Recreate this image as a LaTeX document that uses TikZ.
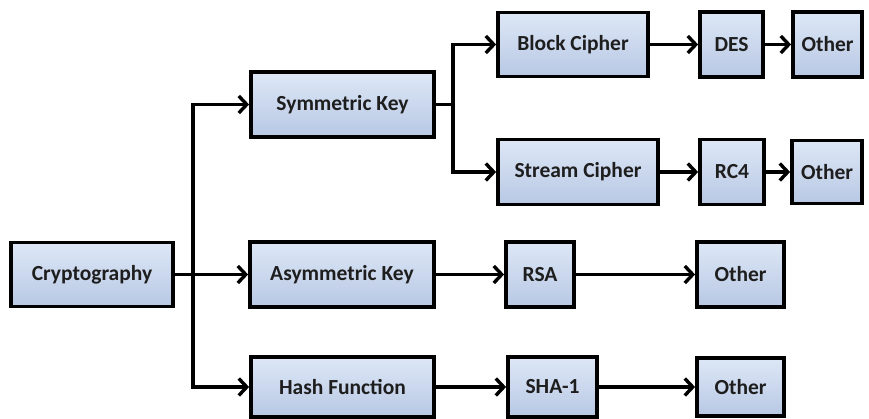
\documentclass[tikz,border=0pt]{standalone}
\usepackage{fontspec}
\setmainfont{Carlito}
\usepackage{tikz}
\usetikzlibrary{arrows.meta, positioning, calc}
\usepackage{xcolor}
\definecolor{boxTop}{HTML}{DDE7F6}
\definecolor{boxBot}{HTML}{B8C8E4}
\definecolor{inkDark}{HTML}{1E1E1E}

\begin{document}
\begin{tikzpicture}[
    x=1pt, y=-1pt,
    box/.style={draw=black, line width=3.8pt, rectangle, inner sep=0pt,
                top color=boxTop, bottom color=boxBot,
                text=inkDark, font=\fontsize{21.5}{24}\selectfont\bfseries},
    arr/.style={-{Straight Barb[length=8pt, width=17pt, line width=3.4pt]},
                line width=3.4pt, black},
    lnk/.style={line width=3.4pt, black}
  ]
    \useasboundingbox (0,0) rectangle (869,419);

    \node[box, minimum width=162pt, minimum height=64pt] (crypto) at (92, 274.5) {Cryptography};

    \node[box, minimum width=183pt, minimum height=65pt] (sym)  at (342.5, 104.5) {Symmetric Key};
    \node[box, minimum width=184pt, minimum height=65pt] (asym) at (342, 274.5) {Asymmetric Key};
    \node[box, minimum width=183pt, minimum height=60pt] (hash) at (342.5, 387) {Hash Function};

    \node[box, minimum width=150pt, minimum height=64pt] (block)  at (573, 44.5) {Block Cipher};
    \node[box, minimum width=160pt, minimum height=65pt] (stream) at (578, 172) {Stream Cipher};

    \node[box, minimum width=63pt, minimum height=65pt] (des)    at (731.5, 44.5) {DES};
    \node[box, minimum width=69pt, minimum height=65pt] (other1) at (827.5, 44.5) {Other};
    \node[box, minimum width=64pt, minimum height=65pt] (rc4)    at (732, 172) {RC4};
    \node[box, minimum width=70pt, minimum height=63pt] (other2) at (827, 172) {Other};

    \node[box, minimum width=68pt, minimum height=65pt] (rsa)    at (540, 274.5) {RSA};
    \node[box, minimum width=87pt, minimum height=65pt] (other3) at (740.5, 274.5) {Other};
    \node[box, minimum width=89pt, minimum height=60pt] (sha)    at (552.5, 387) {SHA-1};
    \node[box, minimum width=87pt, minimum height=58pt] (other4) at (740.5, 387) {Other};

    \coordinate (split) at (193, 274.5);
    \coordinate (fork) at (453, 104.5);

    \draw[arr] (crypto.east) -- (asym.west);
    \draw[arr] (split) |- (sym.west);
    \draw[arr] (split) |- (hash.west);

    \draw[lnk] (sym.east) -- (fork);
    \draw[arr] (fork) |- (block.west);
    \draw[arr] (fork) |- (stream.west);

    \draw[arr] (block.east) -- (des.west);
    \draw[arr] (des.east) -- (other1.west);
    \draw[arr] (stream.east) -- (rc4.west);
    \draw[arr] (rc4.east) -- (other2.west);
    \draw[arr] (asym.east) -- (rsa.west);
    \draw[arr] (rsa.east) -- (other3.west);
    \draw[arr] (hash.east) -- (sha.west);
    \draw[arr] (sha.east) -- (other4.west);
  \end{tikzpicture}
\end{document}
